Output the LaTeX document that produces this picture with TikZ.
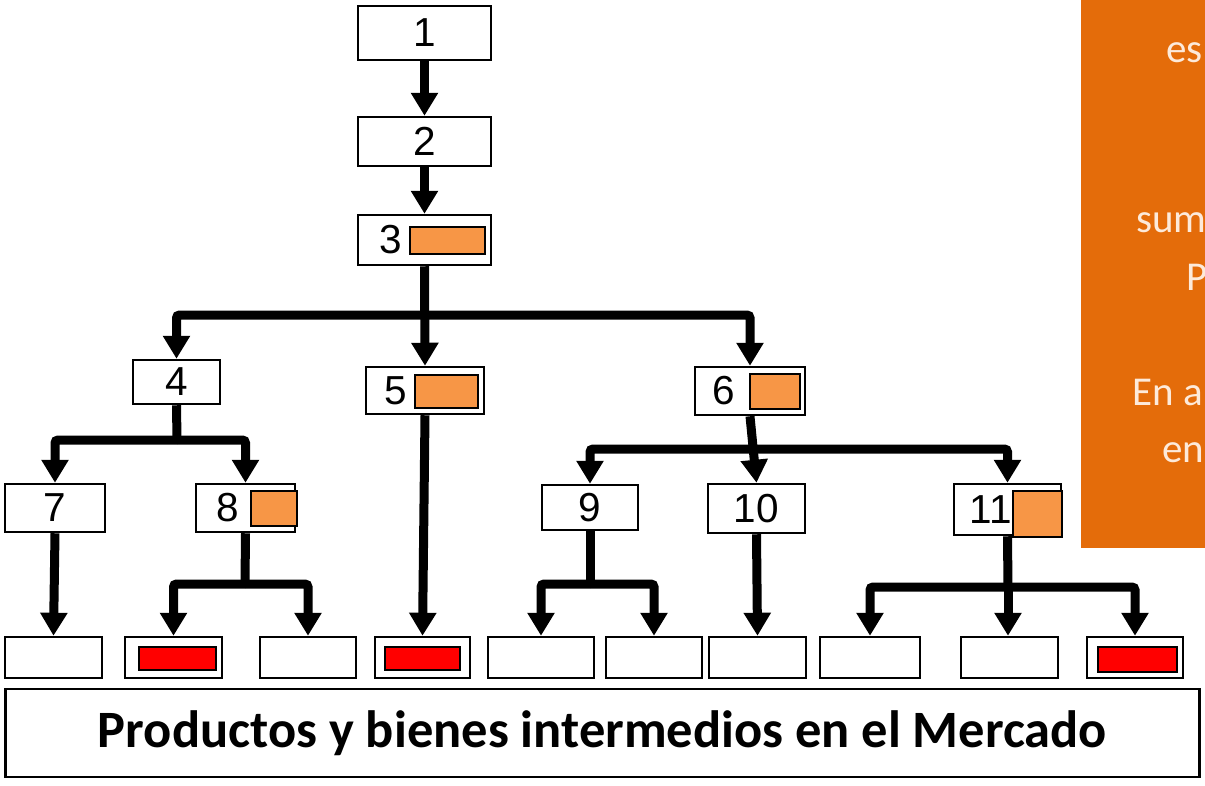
\documentclass[tikz,border=0pt]{standalone}
\usepackage{fontspec}
\setmainfont{Carlito}
\newfontfamily\arialf{Liberation Sans}
\usetikzlibrary{arrows.meta,calc}
\definecolor{panelor}{HTML}{E46C0A}
\definecolor{lightor}{HTML}{F79646}
\definecolor{redfill}{HTML}{FF0000}
\definecolor{cream}{HTML}{FDEADA}
\tikzset{
  box/.style={draw=black,line width=2.5pt,fill=white,inner sep=0pt,minimum width=#1},
  box/.default=97pt,
  orbox/.style={draw=black,line width=2pt,fill=lightor,inner sep=0pt},
  redbox/.style={draw=black,line width=2pt,fill=redfill,inner sep=0pt},
  num/.style={inner sep=0pt,font=\arialf\fontsize{40.5}{44}\selectfont},
  conn/.style={line width=9pt,draw=black,rounded corners=3pt},
  arr/.style={conn,-{Triangle[width=26pt,length=23pt]}},
  ptext/.style={anchor=base west,inner sep=0pt,text=cream,font=\fontsize{41}{44}\selectfont},
}
\begin{document}
\begin{tikzpicture}[x=1pt,y=-1pt]
\useasboundingbox (0,0) rectangle (1205,785);
% orange side panel
\node[fill=panelor,inner sep=0pt,minimum width=124pt,minimum height=548pt,anchor=north west] (panel) at (1081,0) {};
\begin{scope}
\clip (1081,0) rectangle (1205,548);
\node[ptext] (p1) at (1166,62) {es};
\node[ptext] (p2) at (1136,232) {sum};
\node[ptext] (p3) at (1186,290) {P};
\node[ptext] (p4) at (1132,405) {En a};
\node[ptext] (p5) at (1162,462) {en};
\end{scope}
% level boxes
\node[box=133pt,minimum height=54pt] (n1) at (424.5,33) {};
\node[num] (t1) at (n1) {1};
\node[box=133pt,minimum height=49pt] (n2) at (424.5,141.5) {};
\node[num] (t2) at (n2) {2};
\node[box=133pt,minimum height=50pt] (n3) at (424.5,240) {};
\node[num] (t3) at (391,240) {3};
\node[orbox,minimum width=75pt,minimum height=27pt] (o3) at (447.5,240.5) {};
\node[box=87pt,minimum height=44pt] (n4) at (176.5,382) {};
\node[num] (t4) at (n4) {4};
\node[box=118pt,minimum height=47pt] (n5) at (425,390.5) {};
\node[num] (t5) at (396,391) {5};
\node[orbox,minimum width=63pt,minimum height=33pt] (o5) at (446.5,391.5) {};
\node[box=110pt,minimum height=48pt] (n6) at (750,391) {};
\node[num] (t6) at (724,391) {6};
\node[orbox,minimum width=50pt,minimum height=35pt] (o6) at (775,391.5) {};
\node[box=100pt,minimum height=48pt] (n7) at (55,508) {};
\node[num] (t7) at (n7) {7};
\node[box=99pt,minimum height=48pt] (n8) at (245.5,508) {};
\node[num] (t8) at (228,508) {8};
\node[orbox,minimum width=46pt,minimum height=35pt] (o8) at (274,508.5) {};
\node[box=96pt,minimum height=45pt] (n9) at (590,507.5) {};
\node[num] (t9) at (n9) {9};
\node[box=97pt,minimum height=49pt] (n10) at (756.5,508.5) {};
\node[num] (t10) at (n10) {10};
\node[box=107pt,minimum height=51pt] (n11) at (1007.5,509.5) {};
\node[num] (t11) at (991,510) {11};
\node[orbox,minimum width=49pt,minimum height=46pt] (o11) at (1037.5,514) {};
% bottom row
\node[box=97pt,minimum height=41pt] (b1) at (53.5,657.5) {};
\node[box=97pt,minimum height=41pt] (b2) at (173.5,657.5) {};
\node[redbox,minimum width=77pt,minimum height=23pt] (r2) at (177,658.5) {};
\node[box=96pt,minimum height=41pt] (b3) at (308,657.5) {};
\node[box=95pt,minimum height=41pt] (b4) at (422.5,657.5) {};
\node[redbox,minimum width=75pt,minimum height=23pt] (r4) at (422.5,658.5) {};
\node[box=106pt,minimum height=41pt] (b5) at (541,657.5) {};
\node[box=96pt,minimum height=41pt] (b6) at (654,657.5) {};
\node[box=97pt,minimum height=41pt] (b7) at (757.5,657.5) {};
\node[box=100pt,minimum height=41pt] (b8) at (870,657.5) {};
\node[box=97pt,minimum height=41pt] (b9) at (1009.5,657.5) {};
\node[box=96pt,minimum height=41pt] (b10) at (1135,657.5) {};
\node[redbox,minimum width=79pt,minimum height=25pt] (r10) at (1137.5,659.5) {};
% market box
\node[box=1194pt,minimum height=88pt,font=\bfseries\fontsize{52.5}{56}\selectfont] (mk) at (602.5,733) {Productos y bienes intermedios en el Mercado};
% junctions
\coordinate (j3) at (425,315);
\coordinate (j4) at (177,440);
\coordinate (j6) at (752,449);
\coordinate (j8) at (245,584);
\coordinate (j9) at (590,584);
\coordinate (j11) at (1008,587);
% connectors
\draw[arr] (n1.south) -- (n2.north);
\draw[arr] (n2.south) -- (n3.north);
\draw[arr] (n3.south) -- (n5.north);
\draw[arr] (j3) -| (n4.north);
\draw[arr] (j3) -| (n6.north);
\draw[conn] (n4.south) -- (j4);
\draw[arr] (j4) -| (n7.north);
\draw[arr] (j4) -| (n8.north);
\draw[arr] (n6.south) -- (n10.north);
\draw[arr] (j6) -| (n9.north);
\draw[arr] (j6) -| (n11.north);
\draw[arr] (n7.south) -- (b1.north);
\draw[conn] (n8.south) -- (j8);
\draw[arr] (j8) -| (b2.north);
\draw[arr] (j8) -| (b3.north);
\draw[arr] (n5.south) -- (b4.north);
\draw[conn] (n9.south) -- (j9);
\draw[arr] (j9) -| (b5.north);
\draw[arr] (j9) -| (b6.north);
\draw[arr] (n10.south) -- (b7.north);
\draw[conn] (n11.south) -- (j11);
\draw[arr] (j11) -| (b8.north);
\draw[arr] (j11) -- (j11 |- b9.north);
\draw[arr] (j11) -| (b10.north);
\end{tikzpicture}
\end{document}
